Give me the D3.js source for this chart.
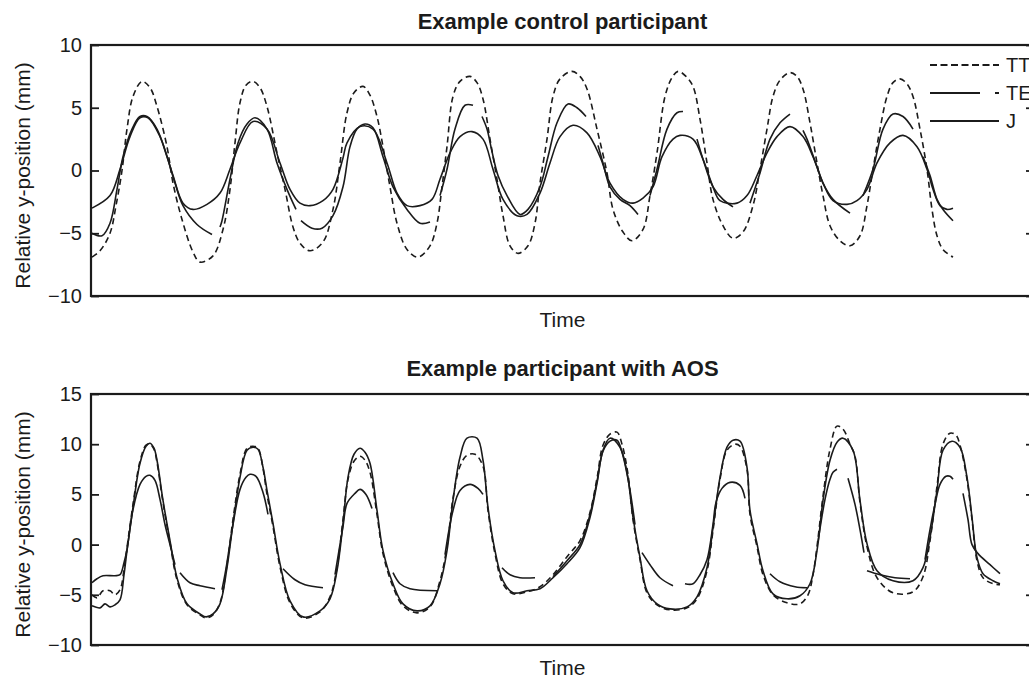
<!DOCTYPE html>
<html>
<head>
<meta charset="utf-8">
<script src="https://cdn.jsdelivr.net/npm/d3@7"></script>
<style>
  html, body { margin: 0; padding: 0; background: #fff; }
  svg { display: block; font-family: "Liberation Sans", Arial, Helvetica, sans-serif; }
</style>
</head>
<body>
<svg id="chart" width="1029" height="682"></svg>
<script>
// ---------------- DATA ----------------
const panelTitles = ["Example control participant", "Example participant with AOS"];
const xLabel = "Time";
const yLabel = "Relative y-position (mm)";
const legendLabels = ["TT", "TE", "J"];
const topTicks = [-10, -5, 0, 5, 10];
const bottomTicks = [-10, -5, 0, 5, 10, 15];
const timeDomain = [0, 943];

// Control participant — [time, value] samples, null = gap in the trace
const ctrlTT = [[1,-6.9],[9,-6.4],[19,-5.0],[25,-2.8],[31,0],[36,3.3],[42,5.9],[51,7.1],[59,6.6],[66,5.1],[76,1.9],[82,-1],[91,-3.9],[102,-6.5],[109,-7.3],[122,-6.8],[132,-4.7],[139,-1.5],[144,2.2],[149,5.4],[155,6.8],[162,7.1],[169,6.6],[176,5.1],[186,1.4],[194,-1.5],[202,-4.5],[209,-5.8],[219,-6.4],[232,-5.7],[242,-3.1],[249,0.6],[256,4.6],[263,6.2],[272,6.7],[279,6.0],[286,4.3],[292,1.9],[299,-1.3],[306,-4.2],[316,-6.3],[327,-6.9],[339,-6.0],[346,-4.2],[351,-1.3],[356,1.9],[362,5.9],[369,7.1],[379,7.5],[386,7.0],[392,5.7],[399,2.5],[406,-0.7],[412,-3.6],[419,-6.0],[427,-6.6],[437,-6.0],[444,-4.2],[449,-1.0],[456,2.5],[462,5.9],[469,7.3],[481,7.9],[489,7.5],[496,6.5],[506,3.3],[516,-0.2],[522,-3.1],[532,-4.9],[541,-5.6],[552,-4.7],[559,-2.0],[566,1.4],[574,5.9],[581,7.4],[587,7.9],[595,7.5],[602,6.7],[609,4.1],[616,0.6],[622,-2.3],[632,-4.4],[642,-5.4],[652,-4.9],[662,-2.8],[669,0.1],[676,3.3],[682,5.9],[689,7.2],[699,7.8],[706,7.5],[712,6.5],[719,3.8],[726,0.6],[732,-2.0],[739,-4.4],[749,-5.6],[759,-6.0],[769,-5.2],[776,-2.8],[782,0.1],[789,3.3],[796,5.9],[802,7.0],[809,7.3],[816,6.9],[822,5.9],[829,3.3],[836,0.1],[841,-3.1],[846,-5.2],[852,-6.3],[862,-6.9]];
const ctrlTE = [[1,-5.0],[11,-5.2],[19,-4.2],[26,-1.5],[32,1.1],[41,3.3],[49,4.3],[56,4.3],[66,3.3],[76,1.1],[84,-1.0],[92,-2.8],[106,-4.3],[121,-5.1],null,[129,-4.5],[131,-4.0],[139,-0.7],[147,2.2],[156,3.7],[164,4.2],[176,3.3],[186,0.6],[196,-1.5],[205,-3.1],null,[210,-4.0],[221,-4.6],[231,-4.6],[242,-3.6],[252,-1.3],[259,1.9],[266,3.3],[274,3.7],[282,3.4],[292,1.1],[302,-1.3],[316,-3.1],[329,-4.2],[339,-4.1],null,[349,-2.0],[356,0.1],[364,3.3],[374,5.2],[382,5.2],null,[391,4.3],[396,3.3],[401,1.5],[407,-0.4],[416,-2.0],[429,-3.5],[437,-3.1],[449,-1.3],[457,1.1],[466,3.8],[477,5.3],[486,5.0],[495,4.3],null,[507,2.0],[512,0.6],[519,-1.3],[529,-2.3],[539,-2.8],[547,-3.5],null,[559,-2.0],[566,0.1],[576,3.3],[586,4.6],[592,4.7],null,[606,2.5],[612,0.9],[622,-1.3],[632,-2.3],[642,-2.9],null,[659,-2.6],[669,-0.2],[679,2.5],[689,3.8],[699,4.5],null,[712,3.2],[716,2.5],[726,0.3],[732,-1.0],[742,-2.3],[759,-3.4],null,[772,-2.0],[782,0.1],[792,3.3],[802,4.5],[812,4.3],[822,3.3],null,[832,1.1],[839,-0.4],[846,-2.3],[852,-3.1],[862,-4.0]];
const ctrlJ = [[1,-3.0],[19,-2.0],[29,0.1],[39,2.7],[49,4.2],[57,4.2],[69,2.7],[82,-0.4],[92,-2.6],[102,-3.1],[116,-2.7],[129,-1.8],[139,0.1],[149,2.2],[162,3.9],[176,3.3],[189,0.6],[199,-1.5],[209,-2.6],[219,-2.8],[232,-2.4],[242,-1.5],[252,1.0],[256,2.2],[269,3.5],[282,3.3],[296,0.6],[306,-1.8],[316,-2.8],[329,-2.8],[341,-2.3],[349,-0.7],[359,1.4],[369,2.7],[381,3.1],[392,2.5],[402,0.1],[412,-2.3],[426,-3.6],[436,-3.5],[449,-1.8],[459,0.6],[469,2.7],[482,3.6],[496,3.0],[509,1.1],[519,-1.0],[532,-2.3],[542,-2.6],[552,-2.2],[562,-1.3],[571,1.1],[582,2.5],[589,2.8],[602,2.5],[612,0.9],[622,-1.3],[629,-2.4],[646,-2.6],[656,-2.0],[666,-0.4],[676,1.4],[686,2.7],[699,3.5],[712,2.7],[722,1.1],[732,-1.0],[742,-2.4],[756,-2.7],[766,-2.4],[776,-1.5],[786,0.6],[799,2.2],[812,2.8],[826,1.9],[836,0.1],[842,-1.5],[849,-2.8],[856,-3.1],[862,-3.0]];

// Participant with AOS
const aosTT = [[1,-5.0],[6,-5.3],[12,-4.6],[19,-4.6],[24,-5.0],[29,-4.5],[33,-2.5],[36,-0.3],[42,4.0],[49,8.3],[55,9.9],[59,10.0],[63,9.5],[66,8.2],[72,4.2],[79,0.2],[86,-3.5],[96,-6.0],[109,-7.0],[115,-7.3],[122,-7.0],[129,-5.8],[136,-2.0],[142,2.5],[149,7.0],[156,9.6],[162,9.8],[167,9.6],[172,7.6],[176,5.0],[182,1.8],[189,-2.2],[199,-5.8],[212,-7.3],[229,-6.7],[239,-5.2],[246,-2.3],[252,2.5],[257,6.5],[263,8.3],[269,8.8],[274,8.4],[279,7.2],[286,3.0],[292,-0.9],[302,-4.2],[312,-6.1],[326,-6.8],[339,-6.2],[349,-3.6],[356,-0.2],[362,4.6],[369,7.8],[376,8.9],[384,9.0],[392,7.8],[397,3.4],[404,-0.9],[412,-3.9],[422,-4.9],[436,-4.7],[449,-4.2],[462,-3.0],[476,-1.2],[489,0.4],[499,3.2],[506,6.6],[512,9.9],[519,11.0],[526,11.2],[531,10.0],[537,7.0],[542,2.5],[549,-1.5],[556,-4.8],[566,-6.0],[579,-6.5],[596,-6.3],[606,-5.4],[616,-2.6],[622,1.4],[629,6.5],[636,9.4],[644,10.0],[649,9.8],[656,7.5],[659,3.0],[666,-0.2],[672,-3.0],[682,-5.0],[696,-5.8],[709,-5.9],[717,-5.0],[722,-3.0],[726,-0.2],[732,4.8],[739,9.5],[746,11.8],[752,11.5],[759,10.0],[764,8.8],[769,4.2],[776,-0.2],[786,-3.3],[802,-4.8],[822,-4.7],[832,-3.2],[839,0.4],[846,5.8],[852,10.0],[859,11.1],[865,10.9],[869,9.9],[876,6.5],[881,2.5],[886,-1.6],[892,-3.3],[902,-3.9],[909,-4.0]];
const aosTE = [[1,-3.8],[6,-3.4],[12,-3.1],[24,-3.1],[29,-3.0],[33,-1.8],[36,-0.5],[42,3.5],[49,6.0],[55,6.8],[59,6.9],[64,6.4],[69,4.5],[74,2.0],[79,0.0],[84,-2.0],null,[89,-2.8],[99,-3.8],[109,-4.1],[124,-4.4],null,[131,-4.5],[135,-2.4],[142,2.0],[149,5.5],[155,6.7],[159,7.0],[165,6.8],[172,5.2],[177,3.0],null,[192,-2.4],[204,-3.5],[214,-4.0],[232,-4.3],null,[244,-3.0],[252,1.8],[256,4.1],[264,5.1],[269,5.5],[275,5.0],[281,3.6],null,[302,-2.8],[309,-3.9],[319,-4.4],[346,-4.6],null,[354,-1.0],[362,3.4],[369,5.4],[379,6.0],[387,5.6],[392,5.0],null,[411,-2.3],[419,-3.0],[429,-3.3],[444,-3.3],null,[462,-3.2],[476,-1.6],[489,0.0],[499,3.0],[506,6.3],[512,9.3],[519,10.3],[526,10.4],[531,9.2],[538,6.0],[544,2.0],null,[551,-0.8],[559,-2.0],[569,-3.3],[582,-4.1],null,[594,-3.9],[602,-3.9],[609,-3.0],[616,-1.5],[622,2.0],[625,4.2],[631,5.6],[639,6.2],[649,5.9],[654,4.6],null,[679,-2.9],[689,-3.7],[704,-4.2],[716,-4.3],null,[727,0.3],[734,4.5],[739,6.5],[742,7.2],[746,7.5],null,[757,6.6],[764,4.0],[769,1.5],[773,-0.8],null,[776,-2.6],[789,-3.0],[804,-3.3],[819,-3.4],null,[834,-1.5],[839,1.5],[844,4.0],[849,6.0],[855,6.8],[859,6.8],[862,6.5],null,[872,5.1],[877,2.5],[881,0.0],[887,-0.9],[899,-2.0],[909,-2.9]];
const aosJ = [[1,-6.1],[9,-6.3],[14,-5.9],[19,-6.2],[24,-6.0],[29,-5.5],[33,-3.0],[36,-0.6],[42,3.7],[49,8.1],[55,9.8],[59,10.1],[63,9.6],[66,8.4],[72,4.4],[79,0.4],[86,-3.3],[96,-5.9],[109,-6.9],[115,-7.2],[122,-6.9],[129,-5.9],[136,-2.3],[142,2.1],[149,6.7],[156,9.4],[162,9.7],[167,9.5],[172,7.7],[176,5.4],[182,2.1],[189,-1.9],[199,-5.6],[212,-7.2],[229,-6.6],[239,-5.4],[246,-2.6],[252,2.1],[257,6.7],[263,9.0],[269,9.6],[274,9.2],[279,8.1],[286,3.4],[292,-0.6],[302,-3.9],[312,-5.9],[326,-6.6],[339,-6.1],[349,-3.9],[356,-0.6],[362,4.4],[369,8.7],[376,10.6],[386,10.6],[392,8.4],[397,3.7],[404,-0.6],[412,-3.6],[422,-4.8],[436,-4.6],[449,-4.4],[462,-3.3],[476,-1.9],[489,-0.3],[499,2.7],[506,6.1],[512,9.4],[519,10.6],[529,9.7],[536,7.2],[542,2.7],[549,-1.3],[556,-4.6],[566,-5.9],[579,-6.4],[596,-6.2],[606,-5.2],[616,-2.3],[622,1.7],[629,6.7],[636,9.7],[642,10.4],[649,10.3],[656,7.7],[659,3.4],[666,0.1],[672,-2.6],[682,-4.9],[696,-5.4],[709,-5.1],[719,-3.9],[726,-0.6],[732,4.4],[739,8.4],[746,10.2],[752,10.6],[762,9.4],[769,4.4],[776,0.1],[786,-2.6],[802,-3.6],[822,-3.6],[832,-2.3],[839,0.7],[846,5.4],[852,9.4],[861,10.3],[869,9.7],[876,6.7],[881,2.7],[886,-1.3],[892,-2.9],[902,-3.6],[909,-3.9]];

// ---------------- DRAW ----------------
const ink = "#1b1b1b";
const svg = d3.select("#chart");
const left = 91, right = 1034;
const x = d3.scaleLinear().domain(timeDomain).range([left, right]);

const styles = {
  TT: { dash: "6,4" },
  TE: { dash: null },
  J:  { dash: null }
};

const panels = [
  { title: panelTitles[0], top: 45, bottom: 296, domain: [-10, 10], ticks: topTicks,
    series: [["TT", ctrlTT], ["TE", ctrlTE], ["J", ctrlJ]], titleY: 29, timeY: 327, legend: true },
  { title: panelTitles[1], top: 394, bottom: 645, domain: [-10, 15], ticks: bottomTicks,
    series: [["TT", aosTT], ["TE", aosTE], ["J", aosJ]], titleY: 376, timeY: 675, legend: false }
];

panels.forEach(p => {
  const y = d3.scaleLinear().domain(p.domain).range([p.bottom, p.top]);
  const g = svg.append("g");

  const line = d3.line()
    .defined(d => d !== null)
    .x(d => x(d[0])).y(d => y(d[1]))
    .curve(d3.curveCatmullRom.alpha(0.5));

  p.series.forEach(([name, data]) => {
    g.append("path")
      .attr("d", line(data))
      .attr("fill", "none")
      .attr("stroke", ink)
      .attr("stroke-width", 1.6)
      .attr("stroke-linejoin", "round")
      .attr("stroke-dasharray", styles[name].dash);
  });

  // left axis
  const ax = g.append("g").attr("transform", `translate(${left},0)`)
    .call(d3.axisLeft(y).tickValues(p.ticks).tickSizeInner(-8).tickSizeOuter(0).tickPadding(9));
  ax.select(".domain").remove();
  ax.selectAll("line").attr("stroke", ink).attr("stroke-width", 1.8);
  ax.selectAll("text").attr("font-size", 20).attr("fill", ink).attr("font-family", "Liberation Sans, Arial, sans-serif");

  // right axis
  const ar = g.append("g").attr("transform", `translate(${right},0)`)
    .call(d3.axisRight(y).tickValues(p.ticks).tickSizeInner(-8).tickSizeOuter(0).tickFormat(""));
  ar.select(".domain").remove();
  ar.selectAll("line").attr("stroke", ink).attr("stroke-width", 1.8);

  // frame
  g.append("rect")
    .attr("x", left).attr("y", p.top)
    .attr("width", right - left).attr("height", p.bottom - p.top)
    .attr("fill", "none").attr("stroke", ink).attr("stroke-width", 2.2);

  // title
  svg.append("text")
    .attr("x", (left + right) / 2).attr("y", p.titleY)
    .attr("text-anchor", "middle").attr("font-weight", "bold").attr("font-size", 22)
    .attr("fill", ink).text(p.title);

  // x label
  svg.append("text")
    .attr("x", (left + right) / 2).attr("y", p.timeY)
    .attr("text-anchor", "middle").attr("font-size", 21)
    .attr("fill", ink).text(xLabel);

  // y label
  const cy = (p.top + p.bottom) / 2 + 5;
  svg.append("text")
    .attr("transform", `translate(30,${cy}) rotate(-90)`)
    .attr("text-anchor", "middle").attr("font-size", 21)
    .attr("fill", ink).text(yLabel);

  if (p.legend) {
    const legDash = { TT: "7,3.5", TE: "50,15", J: null };
    const ly = [65, 93, 121];
    legendLabels.forEach((name, i) => {
      const lg = svg.append("g");
      lg.append("line")
        .attr("x1", 930).attr("x2", 999)
        .attr("y1", ly[i]).attr("y2", ly[i])
        .attr("stroke", ink).attr("stroke-width", 2)
        .attr("stroke-dasharray", legDash[name]);
      lg.append("text")
        .attr("x", 1006).attr("y", ly[i] + 7)
        .attr("font-size", 20).attr("fill", ink).text(name);
    });
  }
});
</script>
</body>
</html>
